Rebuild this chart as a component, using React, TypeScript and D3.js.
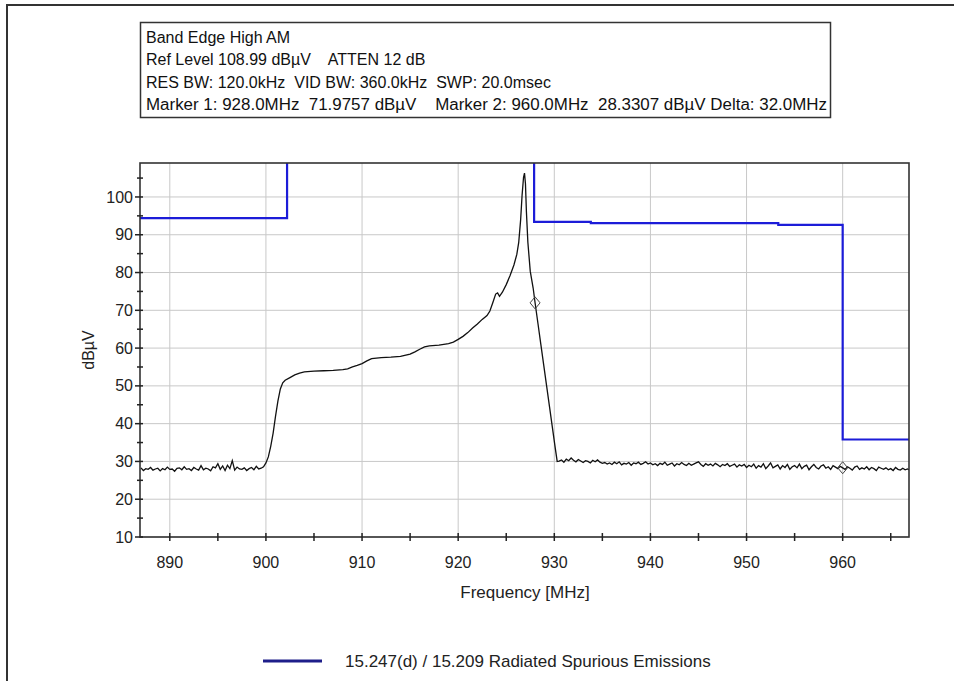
import React from "react";
import * as d3 from "d3";

// ---------- data ----------
const headerLines = [
  "Band Edge High AM",
  "Ref Level 108.99 dB\u00b5V    ATTEN 12 dB",
  "RES BW: 120.0kHz  VID BW: 360.0kHz  SWP: 20.0msec",
  "Marker 1: 928.0MHz  71.9757 dB\u00b5V    Marker 2: 960.0MHz  28.3307 dB\u00b5V Delta: 32.0MHz",
];
const xTicks = [890, 900, 910, 920, 930, 940, 950, 960];
const xMinorTicks = [895, 905, 915, 925, 935, 945, 955, 965];
const yTicks = [10, 20, 30, 40, 50, 60, 70, 80, 90, 100];
const yMinorTicks = [15, 25, 35, 45, 55, 65, 75, 85, 95, 105];
const xDomain = [886.9, 966.9];
const yDomain = [10, 108.99];

// sweep grid for noise sections
const sweepStep = 0.25;
const lowNoiseStart = 887;
const lowNoise = [
  28.3, 27.6, 28.1, 27.9, 28.4, 27.7, 28.0, 28.2, 27.5, 28.1,
  27.8, 28.5, 27.9, 28.0, 27.4, 28.2, 28.3, 27.8, 28.6, 27.9,
  28.1, 27.6, 28.4, 28.0, 27.7, 28.9, 27.8, 28.2, 28.0, 27.5,
  28.6, 28.3, 29.4, 27.9, 28.8, 27.6, 29.0, 28.1, 30.2, 27.7,
  28.5, 28.0, 27.9, 28.3, 27.6, 28.1, 28.4, 27.8, 28.7, 28.0,
  28.2,
];
const signalPoints: [number, number][] = [
  [899.75, 28.6], [900.0, 29.6], [900.25, 31.2], [900.5, 34.0], [900.75, 37.5],
  [901.0, 42.0], [901.25, 46.0], [901.5, 49.2], [901.75, 50.8], [902.0, 51.5],
  [902.5, 52.2], [903.0, 52.9], [903.5, 53.4], [904.0, 53.7], [905.0, 53.9],
  [906.0, 54.0], [907.0, 54.1], [908.0, 54.3], [908.5, 54.5], [909.0, 55.0],
  [909.5, 55.4], [910.0, 55.9], [910.5, 56.6], [911.0, 57.2], [912.0, 57.5],
  [913.0, 57.6], [914.0, 57.8], [915.0, 58.4], [915.5, 59.0], [916.0, 59.7],
  [916.5, 60.3], [917.0, 60.6], [918.0, 60.8], [919.0, 61.2], [919.5, 61.6],
  [920.0, 62.3], [920.5, 63.1], [921.0, 64.1], [921.5, 65.3], [922.0, 66.4],
  [922.5, 67.6], [923.0, 68.6], [923.3, 69.8], [923.6, 72.0], [923.9, 74.3],
  [924.1, 74.6], [924.3, 73.7], [924.6, 74.8], [925.0, 76.8], [925.4, 79.2],
  [925.8, 82.0], [926.1, 84.8], [926.3, 88.0], [926.5, 94.0], [926.65, 100.5],
  [926.8, 105.2], [926.9, 106.3], [927.0, 103.5], [927.1, 96.0], [927.25, 88.0],
  [927.5, 80.3], [927.8, 75.9], [928.0, 72.0], [928.3, 66.5], [928.6, 61.0],
  [928.9, 55.5], [929.2, 50.0], [929.5, 44.5], [929.8, 39.0], [930.1, 33.5],
  [930.3, 30.0],
];
const highNoiseStart = 930.5;
const highNoise = [
  30.1, 30.4, 29.8, 30.6, 30.2, 30.9, 30.3, 29.9, 30.5, 30.1, 29.7, 30.2, 30.0, 29.6, 30.3, 29.9, 30.4, 29.8,
  29.5, 29.7, 29.3, 29.6, 29.2, 29.8, 29.4, 29.9, 29.1, 29.5, 29.3, 29.7, 29.0, 29.6, 29.4, 29.8, 29.2, 29.5, 29.9, 29.3,
  29.6, 29.1, 29.4, 28.9, 29.5, 29.2, 29.8, 29.0, 29.3, 29.6, 28.8, 29.4, 29.1, 29.7, 29.2, 28.9, 29.5, 29.0, 29.3, 29.6,
  29.9, 29.2, 28.7, 29.4, 29.0, 29.3, 28.8, 29.5, 29.1, 28.6, 29.2, 28.9, 29.4, 28.7, 29.0, 29.3, 28.5, 29.1, 28.8, 29.2,
  28.4, 29.0, 28.6, 29.3, 28.2, 28.9, 28.5, 29.4, 28.1, 28.8, 29.6, 28.3, 28.7, 29.1, 28.0, 28.9, 28.4, 29.2, 27.9, 28.6,
  28.9, 28.3, 29.3, 28.1, 28.7, 29.0, 27.8, 28.6, 29.2, 28.4, 28.0, 28.8, 29.1, 28.2, 28.6, 27.9, 28.9, 28.5, 28.1, 28.7,
  28.3, 27.9, 28.6, 28.2, 27.7, 28.5, 28.8, 27.9, 28.3, 28.0, 28.6, 27.8, 28.4, 28.1, 27.6, 28.5, 28.2, 27.9, 28.3, 27.8,
  28.1, 27.6, 28.4, 27.9, 27.7, 28.2, 27.8, 28.0, 27.7,
];
// limit line (15.247(d) / 15.209), step shaped
const limitFreqs = [886.9, 902.2, 902.2, 927.9, 927.9, 933.8, 933.8, 953.3, 953.3, 960.0, 960.0, 966.9];
const limitLevels = [94.4, 94.4, 130, 130, 93.4, 93.4, 93.1, 93.1, 92.6, 92.6, 35.8, 35.8];
const markers: [number, number][] = [
  [928.0, 71.9757],
  [960.0, 28.3307],
];
const legendLabel = "15.247(d) / 15.209 Radiated Spurious Emissions";

// ---------- layout ----------
const W = 954;
const H = 681;
const plot = { left: 140, right: 909, top: 163, bottom: 537 };
const FONT = "Arial, 'Liberation Sans', sans-serif";
const BLUE = "#1c1cd8";

export default function App() {
  const x = d3.scaleLinear().domain(xDomain).range([plot.left, plot.right]);
  const y = d3.scaleLinear().domain(yDomain).range([plot.bottom, plot.top]);

  const trace: [number, number][] = [
    ...lowNoise.map((v, i) => [lowNoiseStart + i * sweepStep, v] as [number, number]),
    ...signalPoints,
    ...highNoise.map((v, i) => [highNoiseStart + i * sweepStep, v] as [number, number]),
  ];
  const line = d3
    .line<[number, number]>()
    .x((d) => x(d[0]))
    .y((d) => y(d[1]));
  const limitPts = limitFreqs.map((f, i) => [f, limitLevels[i]] as [number, number]);

  return (
    <svg
      width={W}
      height={H}
      style={{ position: "absolute", left: 0, top: 0, background: "#fff" }}
      fontFamily={FONT}
    >
      <defs>
        <clipPath id="plotClip">
          <rect x={plot.left} y={plot.top} width={plot.right - plot.left} height={plot.bottom - plot.top} />
        </clipPath>
      </defs>
      {/* outer frame */}
      <path d={`M7,${H} V5 H${W}`} fill="none" stroke="#333" strokeWidth={2} />

      {/* header box */}
      <rect x={140.5} y={22.5} width={690} height={95} fill="#fff" stroke="#333" strokeWidth={1.5} />
      {headerLines.map((t, i) => (
        <text
          key={i}
          x={146}
          y={43 + i * 22.3}
          fontSize={16}
          fill="#111"
          style={{ whiteSpace: "pre" }}
          {...(i === 3 ? { textLength: 681, lengthAdjust: "spacingAndGlyphs" } : {})}
        >
          {t}
        </text>
      ))}

      {/* grid */}
      {xTicks.map((t) => (
        <line key={"gx" + t} x1={x(t)} x2={x(t)} y1={plot.top} y2={plot.bottom} stroke="#c8c8c8" strokeWidth={1} />
      ))}
      {yTicks.map((t) => (
        <line key={"gy" + t} x1={plot.left} x2={plot.right} y1={y(t)} y2={y(t)} stroke="#c8c8c8" strokeWidth={1} />
      ))}

      {/* limit line */}
      <path d={line(limitPts) || ""} fill="none" stroke={BLUE} strokeWidth={2.2} clipPath="url(#plotClip)" />

      {/* trace */}
      <path d={line(trace) || ""} fill="none" stroke="#111" strokeWidth={1.3} clipPath="url(#plotClip)" />

      {/* markers */}
      {markers.map(([f, v], i) => (
        <path
          key={"m" + i}
          d={`M${x(f)},${y(v) - 6} L${x(f) + 5},${y(v)} L${x(f)},${y(v) + 6} L${x(f) - 5},${y(v)} Z`}
          fill="none"
          stroke="#444"
          strokeWidth={1}
        />
      ))}

      {/* plot border */}
      <rect
        x={plot.left}
        y={plot.top}
        width={plot.right - plot.left}
        height={plot.bottom - plot.top}
        fill="none"
        stroke="#333"
        strokeWidth={1.6}
      />

      {/* y ticks */}
      {yTicks.map((t) => (
        <g key={"ty" + t}>
          <line x1={plot.left - 5} x2={plot.left + 3} y1={y(t)} y2={y(t)} stroke="#222" strokeWidth={1.5} />
          <text x={plot.left - 7} y={y(t)} dy="0.35em" textAnchor="end" fontSize={16} fill="#222">
            {t}
          </text>
        </g>
      ))}
      {yMinorTicks.map((t) => (
        <line key={"tym" + t} x1={plot.left - 3} x2={plot.left + 3} y1={y(t)} y2={y(t)} stroke="#222" strokeWidth={1.5} />
      ))}
      {/* x ticks */}
      {xTicks.map((t) => (
        <g key={"tx" + t}>
          <line x1={x(t)} x2={x(t)} y1={plot.bottom - 4} y2={plot.bottom + 4} stroke="#222" strokeWidth={1.5} />
          <text x={x(t)} y={plot.bottom + 31} textAnchor="middle" fontSize={16} fill="#222">
            {t}
          </text>
        </g>
      ))}
      {xMinorTicks.map((t) => (
        <line key={"txm" + t} x1={x(t)} x2={x(t)} y1={plot.bottom - 4} y2={plot.bottom + 4} stroke="#222" strokeWidth={1.5} />
      ))}

      {/* axis titles */}
      <text x={525} y={598} textAnchor="middle" fontSize={17} fill="#222">
        Frequency [MHz]
      </text>
      <text transform="translate(94,350) rotate(-90)" textAnchor="middle" fontSize={16} fill="#222">
        dB{"\u00b5"}V
      </text>

      {/* legend */}
      <line x1={263} x2={322} y1={661} y2={661} stroke="#1e1e8a" strokeWidth={3} />
      <text x={345} y={667} fontSize={17} fill="#222">
        {legendLabel}
      </text>
    </svg>
  );
}
